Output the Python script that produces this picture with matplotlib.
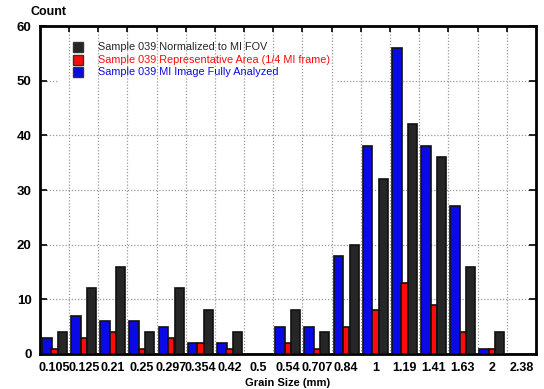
import numpy as np
import matplotlib
matplotlib.use('Agg')
import matplotlib.pyplot as plt

plt.rcParams['font.family'] = ['Liberation Sans', 'DejaVu Sans']

sizes = ['0.105', '0.125', '0.21', '0.25', '0.297', '0.354', '0.42', '0.5', '0.54',
         '0.707', '0.84', '1', '1.19', '1.41', '1.63', '2', '2.38']
blue_vals = [3, 7, 6, 6, 5, 2, 2, 0, 5, 5, 18, 38, 56, 38, 27, 1, 0]
red_vals = [1, 3, 4, 1, 3, 2, 1, 0, 2, 1, 5, 8, 13, 9, 4, 1, 0]
black_vals = [4, 12, 16, 4, 12, 8, 4, 0, 8, 4, 20, 32, 42, 36, 16, 4, 0]
labels = ['Sample 039 Normalized to MI FOV',
          'Sample 039 Representative Area (1/4 MI frame)',
          'Sample 039 MI Image Fully Analyzed']

fig = plt.figure(figsize=(5.44, 3.89), dpi=100)
ax = fig.add_axes([0.0735, 0.09, 0.9115, 0.843])

x = np.arange(len(sizes))
# grid first so bars sit on top
for k in range(len(sizes) - 1):
    ax.axvline(k + 0.5, color='#999999', ls=(0, (1, 1.5)), lw=0.9, zorder=0)
for v in [10, 20, 30, 40]:
    ax.axhline(v, color='#999999', ls=(0, (1, 1.5)), lw=0.9, zorder=0)
ax.axhline(50, xmin=0.6, color='#999999', ls=(0, (1, 1.5)), lw=0.9, zorder=0)
ax.axhline(50, xmax=0.035, color='#999999', ls=(0, (1, 1.5)), lw=0.9, zorder=0)

ax.bar(x - 0.27, blue_vals, 0.33, color='#0a0ae6', edgecolor='#111111', lw=1.2, zorder=3)
ax.bar(x, red_vals, 0.22, color='#ff0a0a', edgecolor='#111111', lw=1.2, zorder=3)
ax.bar(x + 0.27, black_vals, 0.31, color='#262626', edgecolor='#111111', lw=1.2, zorder=3)

ax.set_xlim(-0.5, len(sizes) - 0.5)
ax.set_ylim(0, 60)
ax.set_yticks(range(0, 61, 10))
ax.tick_params(axis='y', direction='in', length=5, width=1.2, right=True,
               labelsize=9.5, pad=6)
for t in ax.get_yticklabels():
    t.set_fontweight('bold')
ax.set_xticks(x)
ax.set_xticklabels(sizes, fontsize=9, fontweight='bold')
ax.tick_params(axis='x', length=0, pad=6)
ax.set_xticks(np.arange(len(sizes) - 1) + 0.5, minor=True)
ax.tick_params(axis='x', which='minor', direction='in', top=True, bottom=False,
               length=4, width=1.2)
for s in ax.spines.values():
    s.set_linewidth(2)

ax.text(-0.02, 1.025, 'Count', transform=ax.transAxes, fontsize=9,
        fontweight='bold', ha='left', va='bottom')
ax.set_xlabel('Grain Size (mm)', fontsize=8, fontweight='bold', labelpad=3)

colors = ['#262626', '#ff0a0a', '#0a0ae6']
for i, (lab, c) in enumerate(zip(labels, colors)):
    yy = 0.935 - i * 0.037
    ax.plot([0.8], [60 * yy], marker='s', ms=6.5, color=c, mec='#333333',
            mew=1, clip_on=False, zorder=5)
    ax.text(1.48, 60 * yy, lab, color=c, fontsize=7.8, va='center', ha='left', zorder=5)

fig.savefig('out.png', dpi=100)
